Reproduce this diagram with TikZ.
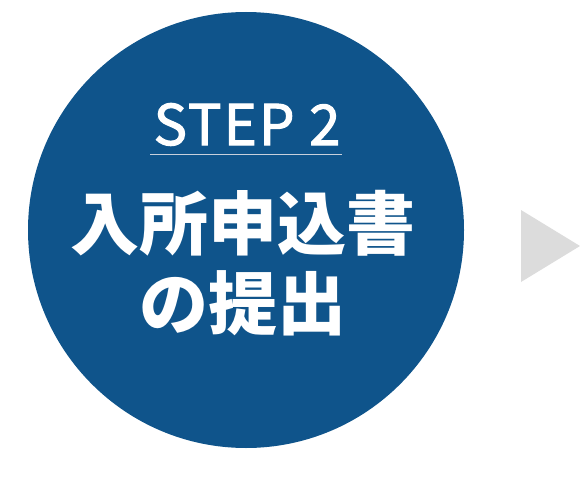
\documentclass[tikz,border=0pt]{standalone}
\usepackage{fontspec}
\newfontfamily\jpfont{Noto Sans CJK JP}
\newfontfamily\stepfont[LetterSpace=4,FakeBold=2]{Noto Sans CJK JP}
\definecolor{circblue}{HTML}{0F548B}
\definecolor{arrowgray}{HTML}{DCDCDC}
\definecolor{rulegray}{HTML}{C8D0DC}
\begin{document}
\begin{tikzpicture}[x=1pt,y=-1pt,
  steplabel/.style={text=white,inner sep=0pt,font=\stepfont\fontsize{56}{56}\selectfont},
  titlelabel/.style={text=white,inner sep=0pt,align=center,font=\jpfont\bfseries\fontsize{69}{80}\selectfont}]
\useasboundingbox (0,0) rectangle (580,500);
\fill[circblue] (246,230) circle[radius=218];
\node[circle,minimum size=436pt,inner sep=0pt] (disc) at (246,230) {};
\node[steplabel,anchor=base] (step) at (247,145) {STEP 2};
\coordinate (ruleL) at (150,154.5);
\coordinate (ruleR) at (342,154.5);
\draw[rulegray,line width=1.2pt] (ruleL) -- (ruleR);
\node[titlelabel] (title) at (243,263) {入所申込書\\の提出};
\fill[arrowgray] (521,210) -- (521,282) -- (580,246) -- cycle;
\end{tikzpicture}
\end{document}
